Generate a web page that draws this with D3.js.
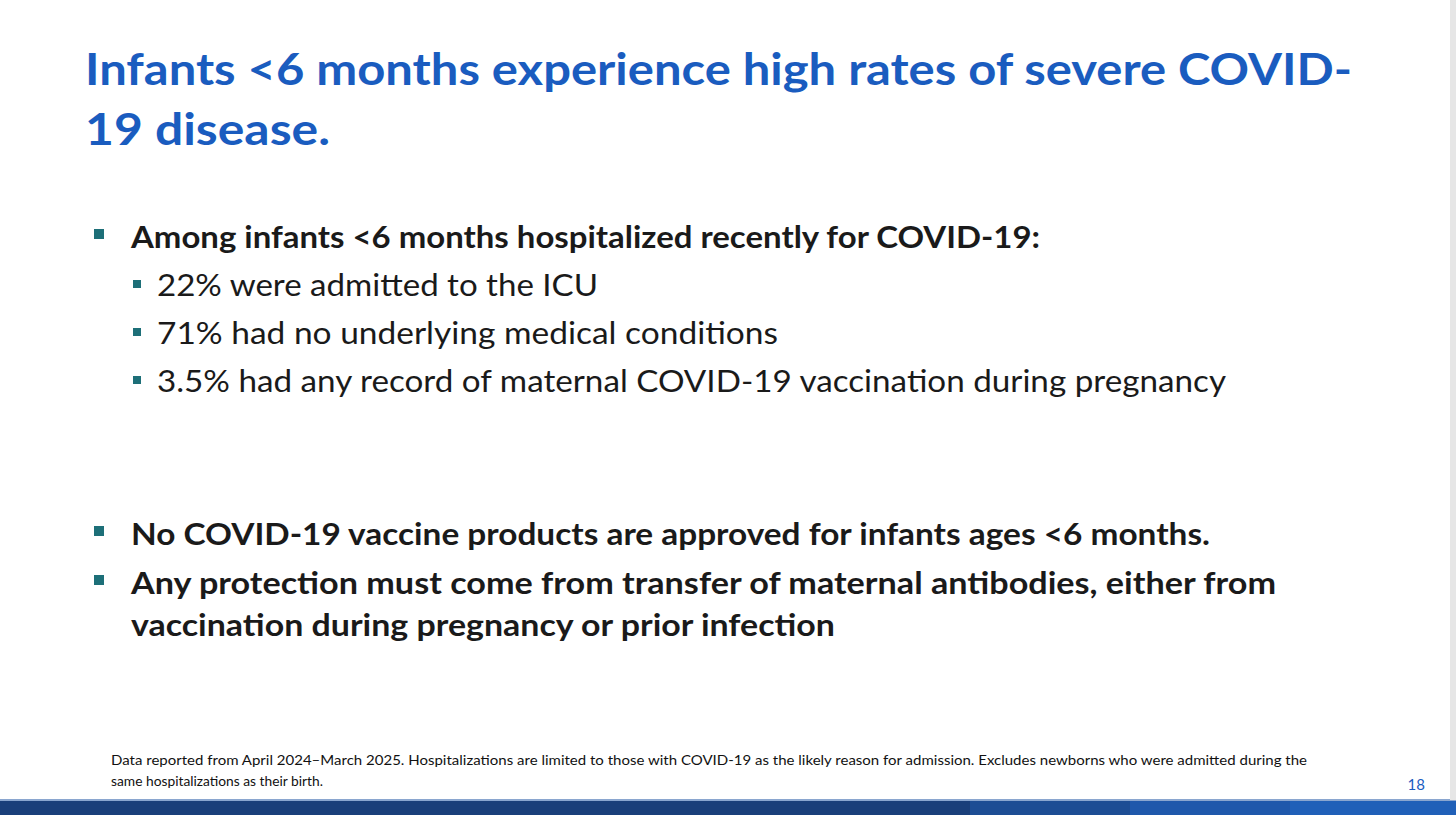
<!DOCTYPE html><html><head><meta charset="utf-8"><script src="https://cdn.jsdelivr.net/npm/d3@7"></script>
<style>body{margin:0;background:#fff}</style></head><body><svg id="s" width="1456" height="815"></svg>
<script>
const titleLines=["Infants <6 months experience high rates of severe COVID-","19 disease."];
const titleWidths=[1267,245];
const bullets=[
 {level:0,text:"Among infants <6 months hospitalized recently for COVID-19:",w:909,y:248},
 {level:1,text:"22% were admitted to the ICU",w:441,y:296},
 {level:1,text:"71% had no underlying medical conditions",w:621,y:344},
 {level:1,text:"3.5% had any record of maternal COVID-19 vaccination during pregnancy",w:1069,y:392},
 {level:0,text:"No COVID-19 vaccine products are approved for infants ages <6 months.",w:1079,y:545},
 {level:0,text:"Any protection must come from transfer of maternal antibodies, either from",w:1145,y:594},
 {level:-1,text:"vaccination during pregnancy or prior infection",w:704,y:636}];
const footLines=["Data reported from April 2024–March 2025. Hospitalizations are limited to those with COVID-19 as the likely reason for admission. Excludes newborns who were admitted during the","same hospitalizations as their birth."];
const footWidths=[1196,212];
const bandColors=["#1a3f7a","#1d4d94","#1f58ab","#2060b8"];
const bandStops=[0,970,1130,1290,1456];
const svg=d3.select("#s"),F="Lato, 'Open Sans', sans-serif";
svg.selectAll("text.t").data(titleLines).join("text").attr("x",85).attr("y",(d,i)=>85+i*60)
 .attr("font-family",F).attr("font-weight",700).attr("font-size",44).attr("fill","#1a5cbf")
 .attr("textLength",(d,i)=>titleWidths[i]).attr("lengthAdjust","spacingAndGlyphs").text(d=>d);
bullets.forEach(b=>{
 const tx=b.level===1?157:131;
 if(b.level>=0){const bx=b.level===1?133:94;
  svg.append("rect").attr("x",bx).attr("y",b.y-(b.level===1?16:19)).attr("width",b.level===1?8:10).attr("height",b.level===1?8:10).attr("fill","#1d6f78");}
 svg.append("text").attr("x",tx).attr("y",b.y).attr("font-family",F).attr("font-size",30)
  .attr("font-weight",b.level===1?400:700).attr("fill","#1a1a1a")
  .attr("textLength",b.w).attr("lengthAdjust","spacingAndGlyphs").text(b.text);
});
svg.selectAll("text.f").data(footLines).join("text").attr("x",111).attr("y",(d,i)=>765+i*21)
 .attr("font-family",F).attr("font-size",13).attr("fill","#111")
 .attr("textLength",(d,i)=>footWidths[i]).attr("lengthAdjust","spacingAndGlyphs").text(d=>d);
svg.append("text").attr("x",1425).attr("y",790).attr("text-anchor","end").attr("font-family",F).attr("font-size",15).attr("fill","#1a5cbf").text("18");
const x=d3.scaleLinear().domain([0,1456]).range([0,1456]);
svg.selectAll("rect.band").data(bandColors).join("rect").attr("x",(d,i)=>x(bandStops[i])).attr("width",(d,i)=>x(bandStops[i+1])-x(bandStops[i]))
 .attr("y",800).attr("height",15).attr("fill",d=>d);
svg.append("rect").attr("x",0).attr("y",799).attr("width",1456).attr("height",2).attr("fill","#8aa6cf");
svg.append("rect").attr("x",1450).attr("y",0).attr("width",6).attr("height",800).attr("fill","#e6e6e6");
</script></body></html>
